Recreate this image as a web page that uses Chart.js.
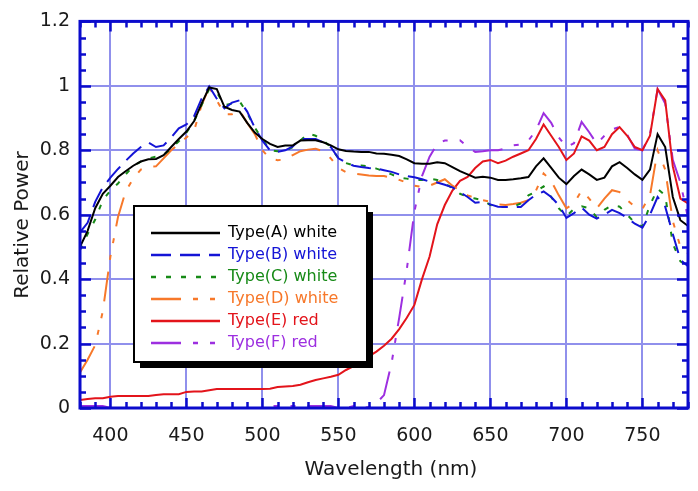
<!DOCTYPE html>
<html>
<head>
<meta charset="utf-8">
<script src="https://cdn.jsdelivr.net/npm/chart.js@4.4.1/dist/chart.umd.min.js"></script>
<style>
  html, body { margin: 0; padding: 0; background: #fff; }
  #wrap { width: 698px; height: 491px; }
</style>
</head>
<body>
<div id="wrap"><canvas id="spectrum" width="698" height="491"></canvas></div>
<script>
// wavelength grid (nm)
const wavelengths = [
  380, 385, 390, 395, 400, 405, 410, 415, 420, 425,
  430, 435, 440, 445, 450, 455, 460, 465, 470, 475,
  480, 485, 490, 495, 500, 505, 510, 515, 520, 525,
  530, 535, 540, 545, 550, 555, 560, 565, 570, 575,
  580, 585, 590, 595, 600, 605, 610, 615, 620, 625,
  630, 635, 640, 645, 650, 655, 660, 665, 670, 675,
  680, 685, 690, 695, 700, 705, 710, 715, 720, 725,
  730, 735, 740, 745, 750, 755, 760, 765, 770, 775,
  780
];

const typeA = [
  0.50, 0.55, 0.62, 0.665, 0.69, 0.717, 0.735, 0.752, 0.765, 0.772,
  0.773, 0.785, 0.81, 0.835, 0.858, 0.89, 0.945, 0.995, 0.99, 0.935,
  0.925, 0.92, 0.885, 0.855, 0.835, 0.82, 0.81, 0.815, 0.815, 0.83,
  0.831, 0.831, 0.825, 0.815, 0.803, 0.798, 0.796, 0.795, 0.795, 0.79,
  0.789, 0.786, 0.782, 0.772, 0.76, 0.758, 0.758, 0.763, 0.76, 0.748,
  0.735, 0.725, 0.715, 0.718, 0.715, 0.708, 0.708, 0.71, 0.713, 0.717,
  0.75, 0.775, 0.745, 0.715, 0.695, 0.72, 0.74, 0.725, 0.708, 0.715,
  0.75, 0.763, 0.745, 0.725, 0.708, 0.74, 0.85, 0.81, 0.655, 0.583,
  0.565
];

const typeB = [
  0.545, 0.575, 0.64, 0.685, 0.715, 0.742, 0.767, 0.79, 0.81, 0.824,
  0.81, 0.815, 0.84, 0.868, 0.88, 0.905, 0.96, 0.998, 0.96, 0.93,
  0.948, 0.955, 0.92, 0.87, 0.83, 0.80, 0.795, 0.80, 0.812, 0.835,
  0.835, 0.835, 0.825, 0.81, 0.775, 0.762, 0.752, 0.748, 0.745, 0.743,
  0.738, 0.733, 0.725, 0.72, 0.716, 0.71, 0.703, 0.70, 0.693, 0.685,
  0.67, 0.655, 0.637, 0.64, 0.632, 0.625, 0.624, 0.624, 0.624, 0.645,
  0.662, 0.672, 0.655, 0.63, 0.59, 0.605, 0.622, 0.60, 0.588, 0.60,
  0.615, 0.605, 0.59, 0.572, 0.56, 0.60, 0.655, 0.625, 0.54, 0.46,
  0.44
];

const typeC = [
  0.49, 0.54, 0.585, 0.645, 0.675, 0.697, 0.725, 0.75, 0.765, 0.775,
  0.78, 0.786, 0.805, 0.828, 0.855, 0.89, 0.94, 0.99, 0.98, 0.94,
  0.945, 0.952, 0.915, 0.87, 0.835, 0.80, 0.797, 0.797, 0.81, 0.83,
  0.852, 0.845, 0.831, 0.81, 0.775, 0.76, 0.753, 0.753, 0.75, 0.743,
  0.735, 0.725, 0.715, 0.712, 0.708, 0.708, 0.712, 0.708, 0.697, 0.683,
  0.665, 0.655, 0.65, 0.645, 0.63, 0.624, 0.624, 0.625, 0.635, 0.66,
  0.672, 0.688, 0.655, 0.62, 0.595, 0.618, 0.626, 0.62, 0.592, 0.615,
  0.629, 0.625, 0.60, 0.575, 0.563, 0.63, 0.68, 0.66, 0.51, 0.455,
  0.44
];

const typeD = [
  0.11, 0.15, 0.195, 0.30, 0.47, 0.593, 0.672, 0.712, 0.74, 0.749,
  0.75, 0.775, 0.80, 0.82, 0.84, 0.86, 0.94, 0.995, 0.955, 0.912,
  0.912, 0.924, 0.885, 0.85, 0.80, 0.774, 0.769, 0.772, 0.785, 0.797,
  0.802, 0.805, 0.797, 0.775, 0.745, 0.732, 0.728, 0.725, 0.722, 0.72,
  0.72, 0.714, 0.708, 0.70, 0.69, 0.686, 0.69, 0.70, 0.71, 0.69,
  0.675, 0.66, 0.652, 0.645, 0.64, 0.632, 0.63, 0.633, 0.637, 0.645,
  0.675, 0.728, 0.705, 0.66, 0.62, 0.635, 0.675, 0.65, 0.62, 0.65,
  0.676, 0.67, 0.645, 0.625, 0.618, 0.66, 0.80, 0.74, 0.58, 0.50,
  0.48
];

const typeE = [
  0.025, 0.028, 0.03, 0.03, 0.035, 0.037, 0.037, 0.037, 0.037, 0.037,
  0.04, 0.043, 0.043, 0.043, 0.05, 0.051, 0.051, 0.055, 0.059, 0.059,
  0.059, 0.059, 0.059, 0.059, 0.059, 0.06, 0.065, 0.067, 0.068, 0.072,
  0.08, 0.087, 0.092, 0.097, 0.103, 0.118, 0.13, 0.145, 0.16, 0.175,
  0.193, 0.215, 0.245, 0.28, 0.32, 0.40, 0.47, 0.57, 0.63, 0.675,
  0.705, 0.717, 0.745, 0.765, 0.77, 0.76, 0.768, 0.78, 0.79, 0.80,
  0.835, 0.88, 0.845, 0.81, 0.77, 0.79, 0.843, 0.83, 0.80, 0.81,
  0.85, 0.872, 0.845, 0.81, 0.80, 0.845, 0.99, 0.955, 0.75, 0.65,
  0.635
];

const typeF = [
  0.006, 0.006, 0.006, 0.006, 0, 0, 0, 0, 0, 0,
  0, 0, 0, 0, 0, 0, 0, 0, 0, 0,
  0, 0, 0, 0, 0, 0.006, 0.006, 0.006, 0.006, 0.006,
  0.006, 0.006, 0.006, 0.006, 0, 0, 0.006, 0, 0.003, 0.015,
  0.04, 0.14, 0.28, 0.43, 0.61, 0.72, 0.78, 0.82, 0.83, 0.831,
  0.831, 0.81, 0.795, 0.797, 0.80, 0.80, 0.805, 0.815, 0.818, 0.83,
  0.862, 0.915, 0.885, 0.84, 0.81, 0.822, 0.888, 0.856, 0.82, 0.845,
  0.865, 0.872, 0.848, 0.805, 0.80, 0.85, 0.99, 0.945, 0.77, 0.70,
  0.59
];

const seriesNames = ['Type(A) white', 'Type(B) white', 'Type(C) white', 'Type(D) white', 'Type(E) red', 'Type(F) red'];
const xTicks = [400, 450, 500, 550, 600, 650, 700, 750];
const yTicks = [0, 0.2, 0.4, 0.6, 0.8, 1, 1.2];

const FONT = '"DejaVu Sans", Verdana, sans-serif';
const AXIS_BLUE = '#0b0bcc';
const GRID_BLUE = '#9090ec';

const styles = [
  { color: '#000000', dash: [] },
  { color: '#1414d6', dash: [20, 9] },
  { color: '#178a17', dash: [5, 10] },
  { color: '#f7782a', dash: [30, 12, 5, 12, 5, 12] },
  { color: '#e3141b', dash: [] },
  { color: '#9d2fe0', dash: [30, 12, 5, 12, 5, 12] }
];

const allSeries = [typeA, typeB, typeC, typeD, typeE, typeF];

const datasets = allSeries.map((vals, i) => ({
  label: seriesNames[i],
  data: wavelengths.map((w, j) => ({ x: w, y: vals[j] })),
  borderColor: styles[i].color,
  borderDash: styles[i].dash,
  borderWidth: 2,
  pointRadius: 0,
  tension: 0,
  fill: false
}));

// frame with inward ticks, axis titles and boxed legend
const framePlugin = {
  id: 'frame',
  afterDatasetsDraw(chart) {
    const { ctx, chartArea: a, scales: { x, y } } = chart;
    ctx.save();
    ctx.strokeStyle = AXIS_BLUE;
    ctx.lineWidth = 2.5;
    ctx.beginPath();
    for (let v = 380; v <= 780; v += 10) {
      const px = Math.round(x.getPixelForValue(v)) + 0.5;
      const len = v % 50 === 0 ? 10 : 6;
      ctx.moveTo(px, a.bottom); ctx.lineTo(px, a.bottom - len);
      ctx.moveTo(px, a.top); ctx.lineTo(px, a.top + len);
    }
    for (let k = 0; k <= 24; k++) {
      const py = Math.round(y.getPixelForValue(k * 0.05)) + 0.5;
      const len = k % 4 === 0 ? 11 : 6;
      ctx.moveTo(a.left, py); ctx.lineTo(a.left + len, py);
      ctx.moveTo(a.right, py); ctx.lineTo(a.right - len, py);
    }
    ctx.stroke();
    ctx.lineWidth = 3;
    ctx.strokeRect(a.left, a.top, a.right - a.left, a.bottom - a.top);

    // axis titles
    ctx.fillStyle = '#1a1a1a';
    ctx.font = '20px ' + FONT;
    ctx.textAlign = 'center';
    ctx.textBaseline = 'middle';
    ctx.fillText('Wavelength (nm)', 391, 470);
    ctx.save();
    ctx.translate(23, 225);
    ctx.rotate(-Math.PI / 2);
    ctx.fillText('Relative Power', 0, 0);
    ctx.restore();

    // legend box
    const bx = 134, by = 206, bw = 233, bh = 156;
    ctx.fillStyle = '#000';
    ctx.fillRect(bx + 6, by + 6, bw, bh);
    ctx.fillStyle = '#fff';
    ctx.fillRect(bx, by, bw, bh);
    ctx.strokeStyle = '#000';
    ctx.lineWidth = 2;
    ctx.strokeRect(bx, by, bw, bh);

    ctx.font = '16px ' + FONT;
    ctx.textAlign = 'left';
    chart.data.datasets.forEach((ds, i) => {
      const ry = 233 + i * 22;
      ctx.strokeStyle = ds.borderColor;
      ctx.lineWidth = 2.5;
      ctx.setLineDash(ds.borderDash);
      ctx.beginPath();
      ctx.moveTo(151, ry);
      ctx.lineTo(220, ry);
      ctx.stroke();
      ctx.setLineDash([]);
      ctx.fillStyle = ds.borderColor;
      ctx.fillText(ds.label, 228, ry);
    });
    ctx.restore();
  }
};

new Chart(document.getElementById('spectrum'), {
  type: 'line',
  data: { datasets },
  options: {
    responsive: false,
    animation: false,
    devicePixelRatio: 1,
    layout: { padding: { top: 21, right: 10, left: 0, bottom: 0 } },
    plugins: { legend: { display: false }, tooltip: { enabled: false } },
    scales: {
      x: {
        type: 'linear',
        min: 380,
        max: 780,
        afterBuildTicks: s => { s.ticks = xTicks.map(v => ({ value: v })); },
        afterFit: s => { s.height = 83; },
        grid: { color: GRID_BLUE, lineWidth: 2, drawTicks: false },
        border: { display: false },
        ticks: { color: '#1a1a1a', font: { family: FONT, size: 19 }, padding: 17, maxRotation: 0, autoSkip: false }
      },
      y: {
        type: 'linear',
        min: 0,
        max: 1.2,
        afterBuildTicks: s => { s.ticks = yTicks.map(v => ({ value: v })); },
        afterFit: s => { s.width = 80; },
        grid: { color: GRID_BLUE, lineWidth: 2, drawTicks: false },
        border: { display: false },
        ticks: { color: '#1a1a1a', font: { family: FONT, size: 19 }, padding: 10, autoSkip: false,
                 callback: v => String(v) }
      }
    }
  },
  plugins: [framePlugin]
});
</script>
</body>
</html>
